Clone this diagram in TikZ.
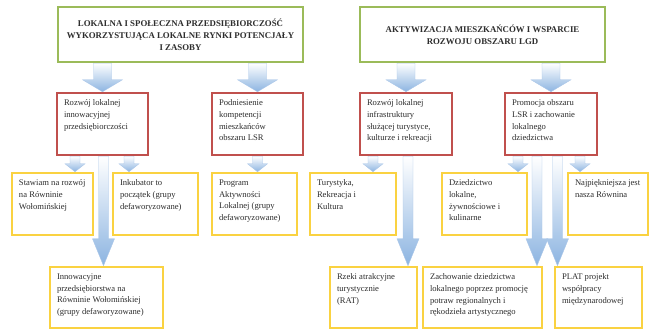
\documentclass[tikz,border=0pt]{standalone}
\usepackage{fontspec}
\setmainfont{Liberation Serif}
\usetikzlibrary{calc,backgrounds}

\definecolor{boxgreen}{RGB}{155,187,89}
\definecolor{boxred}{RGB}{192,80,77}
\definecolor{boxyellow}{RGB}{250,210,65}
\definecolor{arrowblue}{RGB}{140,180,225}
\definecolor{arrowline}{RGB}{170,198,232}
\definecolor{txtgray}{RGB}{45,45,45}

\newcommand{\boxtext}[3]{\parbox[c][#2][t]{#1}{\raggedright #3}}
% block arrow: start, target, shaft half width, head half width, head length
\newcommand{\blockarrow}[5]{%
  \path[arrowfill] let \p1=#1, \p2=#2 in
    (\x1-#3,\y1) -- (\x1-#3,\y2+#5) -- (\x1-#4,\y2+#5) -- (\x1,\y2)
    -- (\x1+#4,\y2+#5) -- (\x1+#3,\y2+#5) -- (\x1+#3,\y1) -- cycle;}

\tikzset{
  goalbox/.style={draw=boxgreen, line width=2.2pt, fill=white, align=center,
    minimum width=245pt, minimum height=55pt, inner sep=0pt, text=txtgray,
    font=\fontsize{8.8}{11.8}\selectfont\bfseries},
  aimbox/.style={draw=boxred, line width=2.5pt, fill=white, inner xsep=7pt,
    inner ysep=7pt, text=txtgray, font=\fontsize{8.6}{11.6}\selectfont},
  taskbox/.style={draw=boxyellow, line width=2.5pt, fill=white, inner xsep=7pt,
    inner ysep=7pt, text=txtgray, font=\fontsize{8.6}{11.6}\selectfont},
  arrowfill/.style={top color=white, bottom color=arrowblue, draw=arrowline,
    line width=0.4pt}
}

\begin{document}
\begin{tikzpicture}[x=1pt,y=-1pt]
\useasboundingbox (0,0) rectangle (651,336);

% goals
\node[goalbox] (gl) at (180.5,34.5) {LOKALNA I SPOŁECZNA PRZEDSIĘBIORCZOŚĆ\\
  WYKORZYSTUJĄCA LOKALNE RYNKI POTENCJAŁY\\ I ZASOBY};
\node[goalbox] (gr) at (482.5,34.5) {AKTYWIZACJA MIESZKAŃCÓW I WSPARCIE\\
  ROZWOJU OBSZARU LGD};

% aims
\node[aimbox] (r1) at (102.5,124) {\boxtext{77pt}{48pt}{Rozwój lokalnej\\ innowacyjnej\\ przedsiębiorczości}};
\node[aimbox] (r2) at (257.5,124) {\boxtext{77pt}{48pt}{Podniesienie\\ kompetencji\\ mieszkańców\\ obszaru LSR}};
\node[aimbox] (r3) at (406,124) {\boxtext{78pt}{48pt}{Rozwój lokalnej\\ infrastruktury\\ służącej turystyce,\\ kulturze i rekreacji}};
\node[aimbox] (r4) at (551,124) {\boxtext{78pt}{48pt}{Promocja obszaru\\ LSR i zachowanie\\ lokalnego\\ dziedzictwa}};

% tasks, first row
\node[taskbox] (y1) at (52.5,204) {\boxtext{67pt}{48pt}{Stawiam na rozwój\\ na Równinie\\ Wołomińskiej}};
\node[taskbox] (y2) at (155.5,204) {\boxtext{71pt}{48pt}{Inkubator to\\ początek (grupy\\ defaworyzowane)}};
\node[taskbox] (y3) at (254.5,204) {\boxtext{71pt}{48pt}{Program\\ Aktywności\\ Lokalnej (grupy\\ defaworyzowane)}};
\node[taskbox] (y4) at (353,204) {\boxtext{72pt}{48pt}{Turystyka,\\ Rekreacja i\\ Kultura}};
\node[taskbox] (y5) at (484.5,204) {\boxtext{71pt}{48pt}{Dziedzictwo\\ lokalne,\\ żywnościowe i\\ kulinarne}};
\node[taskbox] (y6) at (608,204) {\boxtext{66pt}{48pt}{Najpiękniejsza jest\\ nasza Równina}};

% tasks, second row
\node[taskbox] (z1) at (106.5,297.5) {\boxtext{99pt}{47pt}{Innowacyjne\\ przedsiębiorstwa na\\ Równinie Wołomińskiej\\ (grupy defaworyzowane)}};
\node[taskbox] (z2) at (373.5,297.5) {\boxtext{73pt}{47pt}{Rzeki atrakcyjne\\ turystycznie\\ (RAT)}};
\node[taskbox] (z3) at (482.5,297.5) {\boxtext{105pt}{47pt}{Zachowanie dziedzictwa\\ lokalnego poprzez promocję\\ potraw regionalnych i\\ rękodzieła artystycznego}};
\node[taskbox] (z4) at (598.5,297.5) {\boxtext{73pt}{47pt}{PLAT projekt\\ współpracy\\ międzynarodowej}};

\begin{scope}[on background layer]
% goals to aims
\blockarrow{(gl.south -| r1.north)}{(r1.north)}{9pt}{20pt}{12pt}
\blockarrow{(gl.south -| r2.north)}{(r2.north)}{9pt}{20pt}{12pt}
\blockarrow{(gr.south -| r3.north)}{(r3.north)}{9pt}{20pt}{12pt}
\blockarrow{(gr.south -| r4.north)}{(r4.north)}{9pt}{20pt}{12pt}
% aims to tasks
\blockarrow{([xshift=-27.5pt]r1.south)}{(y1.north)}{5pt}{10pt}{8pt}
\blockarrow{([xshift=26.5pt]r1.south)}{(y2.north)}{5pt}{10pt}{8pt}
\blockarrow{(r2.south)}{(y3.north)}{5pt}{10pt}{8pt}
\blockarrow{([xshift=-33pt]r3.south)}{(y4.north)}{5pt}{10pt}{8pt}
\blockarrow{([xshift=-33pt]r4.south)}{(y5.north)}{5pt}{10pt}{8pt}
\blockarrow{([xshift=29pt]r4.south)}{(y6.north)}{5pt}{10pt}{8pt}
% long ones
\blockarrow{([xshift=1pt]r1.south)}{(z1.north)}{5pt}{11pt}{27pt}
\blockarrow{([xshift=2pt]r3.south)}{(z2.north)}{5pt}{11pt}{27pt}
\blockarrow{([xshift=-14pt]r4.south)}{(z3.north)}{5pt}{11pt}{27pt}
\blockarrow{([xshift=6.5pt]r4.south)}{(z4.north)}{5pt}{11pt}{27pt}
\end{scope}
\end{tikzpicture}
\end{document}
